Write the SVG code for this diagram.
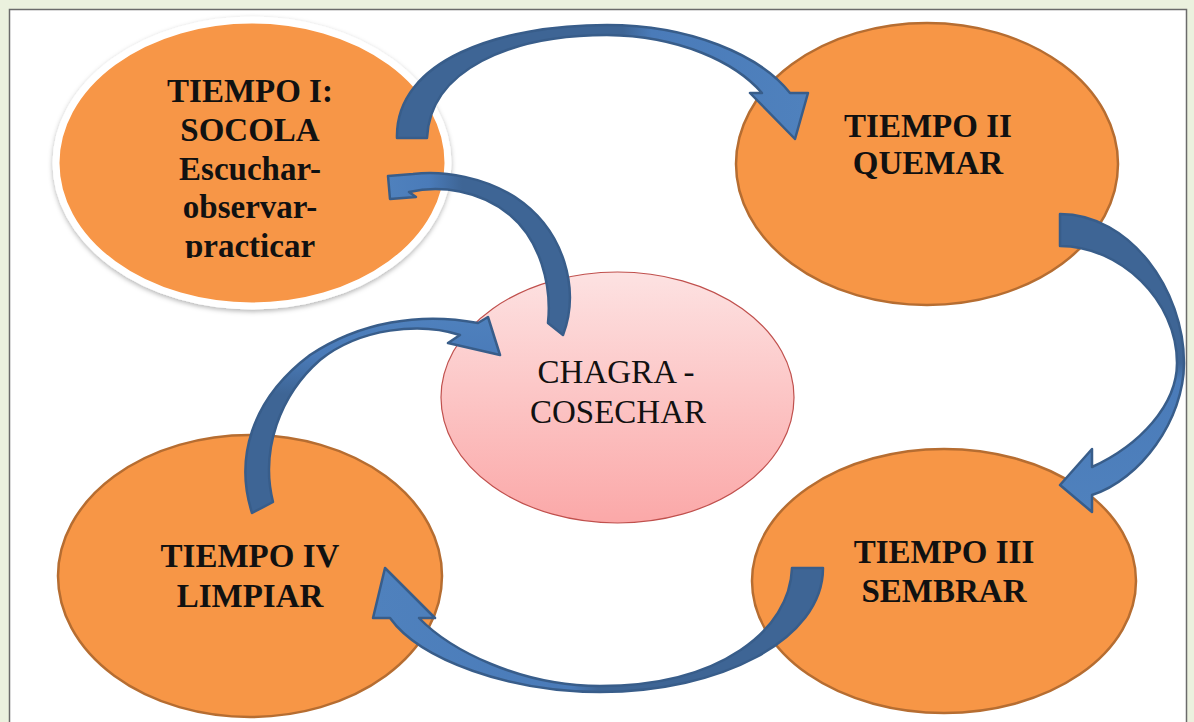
<svg xmlns="http://www.w3.org/2000/svg" width="1194" height="722" viewBox="0 0 1194 722">
<style>
.node{fill:#f79646;stroke:#b66d31;stroke-width:2.5}
.bold{font-family:"Liberation Serif","Times New Roman",serif;font-weight:bold;font-size:33px;fill:#111;text-anchor:middle}
.reg{font-family:"Liberation Serif","Times New Roman",serif;font-size:33px;fill:#111;text-anchor:middle}
.arrow{stroke:#385d8a;stroke-width:2.5;stroke-linejoin:round}
</style>
<defs>
<filter id="sh" x="-10%" y="-10%" width="120%" height="125%">
<feDropShadow dx="0" dy="2" stdDeviation="2.5" flood-color="#000" flood-opacity="0.3"/>
</filter>
<linearGradient id="pink" x1="0" y1="0" x2="0" y2="1">
<stop offset="0" stop-color="#fde2e2"/>
<stop offset="1" stop-color="#fba8a8"/>
</linearGradient>
<linearGradient id="g1" gradientUnits="userSpaceOnUse" x1="397" y1="0" x2="808" y2="0">
<stop offset="0" stop-color="#3e6595"/><stop offset="0.55" stop-color="#3e6595"/><stop offset="0.62" stop-color="#4a7bb9"/><stop offset="1" stop-color="#4f81bd"/>
</linearGradient>
<linearGradient id="g2" gradientUnits="userSpaceOnUse" x1="0" y1="214" x2="0" y2="512">
<stop offset="0" stop-color="#3e6595"/><stop offset="0.5" stop-color="#3e6595"/><stop offset="0.56" stop-color="#4a7bb9"/><stop offset="1" stop-color="#4f81bd"/>
</linearGradient>
<linearGradient id="g3" gradientUnits="userSpaceOnUse" x1="823" y1="0" x2="373" y2="0">
<stop offset="0" stop-color="#3e6595"/><stop offset="0.5" stop-color="#3e6595"/><stop offset="0.56" stop-color="#4a7bb9"/><stop offset="1" stop-color="#4f81bd"/>
</linearGradient>
<linearGradient id="g4" gradientUnits="userSpaceOnUse" x1="0" y1="513" x2="0" y2="315">
<stop offset="0" stop-color="#3e6595"/><stop offset="0.6" stop-color="#3e6595"/><stop offset="0.8" stop-color="#4a7bb9"/><stop offset="1" stop-color="#4f81bd"/>
</linearGradient>
<linearGradient id="g5" gradientUnits="userSpaceOnUse" x1="573" y1="0" x2="388" y2="0">
<stop offset="0" stop-color="#3e6595"/><stop offset="0.6" stop-color="#3e6595"/><stop offset="0.78" stop-color="#4a7bb9"/><stop offset="1" stop-color="#4f81bd"/>
</linearGradient>
<clipPath id="clip1"><rect x="0" y="0" width="600" height="258"/></clipPath>
</defs>
<rect x="0" y="0" width="1194" height="722" fill="#ebf1de"/>
<rect x="9.5" y="9.5" width="1177" height="730" fill="#ffffff" stroke="#6b6b6b" stroke-width="1.5"/>

<g id="node-tiempo1">
<ellipse cx="252" cy="163" rx="196" ry="143" fill="#f79646" stroke="#ffffff" stroke-width="7" filter="url(#sh)"/>
<g clip-path="url(#clip1)">
<text class="bold" x="250" y="102">TIEMPO I:</text>
<text class="bold" x="250" y="141">SOCOLA</text>
<text class="bold" x="250" y="180">Escuchar-</text>
<text class="bold" x="250" y="218">observar-</text>
<text class="bold" x="250" y="257">practicar</text>
</g>
</g>
<g id="node-tiempo2">
<ellipse class="node" cx="927" cy="164" rx="191" ry="141"/>
<text class="bold" x="928" y="137">TIEMPO II</text>
<text class="bold" x="928" y="174">QUEMAR</text>
</g>
<g id="node-tiempo3">
<ellipse class="node" cx="944" cy="581" rx="192" ry="132"/>
<text class="bold" x="944" y="563">TIEMPO III</text>
<text class="bold" x="944" y="602">SEMBRAR</text>
</g>
<g id="node-tiempo4">
<ellipse class="node" cx="250" cy="576" rx="192" ry="141"/>
<text class="bold" x="250" y="567">TIEMPO IV</text>
<text class="bold" x="250" y="607">LIMPIAR</text>
</g>
<g id="node-chagra">
<ellipse cx="617.5" cy="397.5" rx="176.5" ry="125.5" fill="url(#pink)" stroke="#c0504d" stroke-width="1.2"/>
<text class="reg" x="616" y="383">CHAGRA -</text>
<text class="reg" x="618" y="423">COSECHAR</text>
</g>

<g id="connectors">
<path class="arrow" fill="url(#g1)" d="M 397 138 C 395 60 500 25 607 25 C 690 25 760 55 790 93 L 808 93 L 795 139 L 750 93 L 762 93 C 735 62 680 36 607 35 C 510 35 430 70 427 138 Z"/>
<path class="arrow" fill="url(#g2)" d="M 1060 214 C 1130 214 1184 290 1184 363 C 1184 420 1140 480 1092 495 L 1092 512 L 1060 485 L 1092 449 L 1092 467 C 1140 445 1177 405 1177 363 C 1177 300 1120 246 1060 246 Z"/>
<path class="arrow" fill="url(#g3)" d="M 823 568 C 823 640 720 692 600 692 C 510 692 420 660 390 618 L 373 618 L 385 568 L 435 618 L 419 618 C 450 650 520 686 600 686 C 720 686 790 630 792 568 Z"/>
<path class="arrow" fill="url(#g4)" d="M 252 513 C 235 460 250 400 310 355 C 360 322 420 312 478 323 L 488 317 L 500 355 L 448 343 L 460 335 C 420 322 360 328 320 360 C 280 395 260 450 273 502 Z"/>
<path class="arrow" fill="url(#g5)" d="M 563 335 C 580 290 565 230 515 197 C 485 178 445 170 413 174 L 388 176 L 390 199 L 416 197 L 409 192 C 440 185 480 190 510 215 C 540 240 552 285 548 323 Z"/>
</g>
</svg>
